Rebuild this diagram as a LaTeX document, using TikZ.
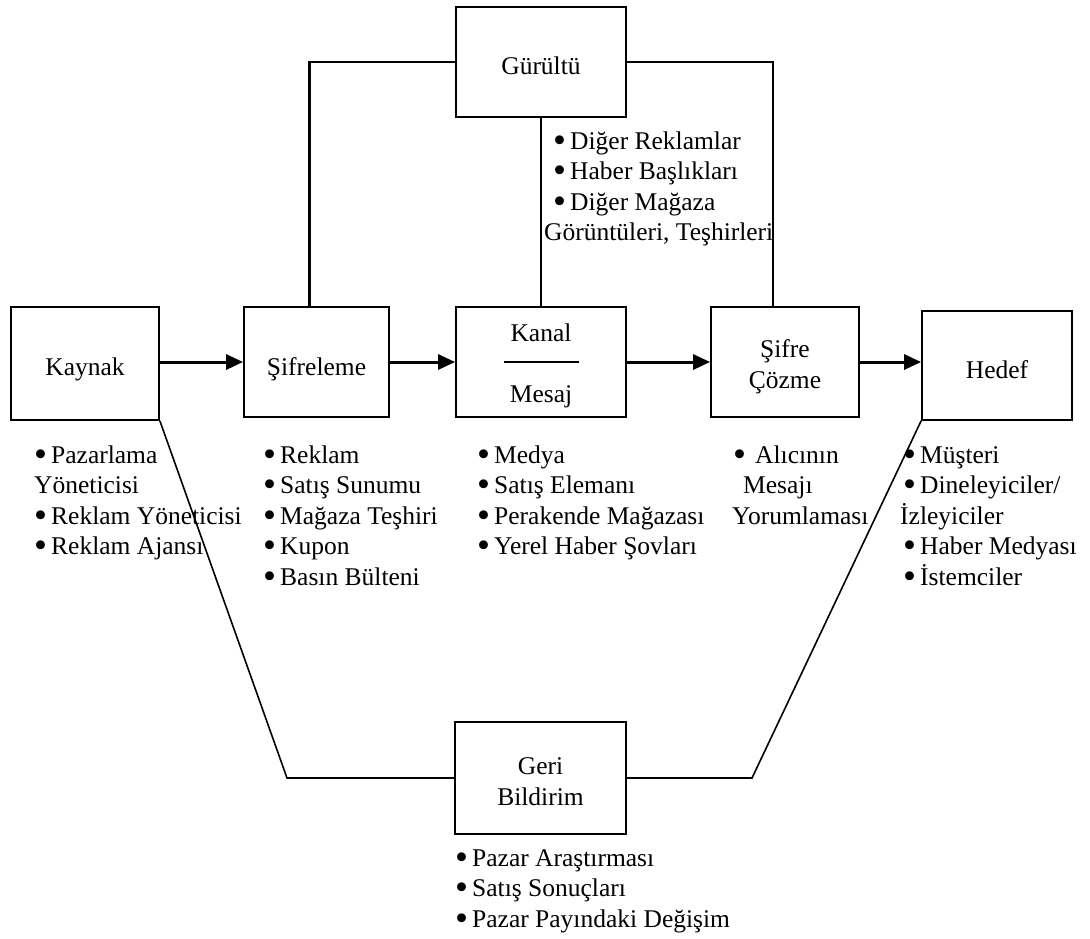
\documentclass[tikz,border=0pt]{standalone}
\usepackage{fontspec}
\usepackage{graphicx}
\setmainfont{Liberation Serif}
\usetikzlibrary{arrows.meta,calc}

% a round bullet dot
\newcommand{\bigdot}{\raisebox{-3.2pt}{\scalebox{1.45}{\textbullet}}}
% bullet followed by the gap before the item text
\newcommand{\bul}{\makebox[17pt][l]{\bigdot}}
% a left-aligned block whose baseline is that of its first line
\newcommand{\itemsblock}[1]{\begin{tabular}[t]{@{}l@{}}#1\end{tabular}}

\begin{document}
\begin{tikzpicture}[x=1pt,y=-1pt,
  every node/.style={font=\fontsize{25.5}{30.5}\selectfont},
  box/.style={draw, line width=1.8pt, inner sep=0pt},
  lbl/.style={anchor=base, inner sep=0pt},
  items/.style={anchor=base west, inner sep=0pt},
  flow/.style={line width=3pt, -{Triangle[length=17pt,width=15pt]}},
  noiseline/.style={line width=2.8pt},
  fbline/.style={line width=1.6pt}]

\useasboundingbox (0,0) rectangle (1090,938);

% main chain of boxes
\node[box, minimum width=148pt, minimum height=113pt] (src)   at (85,363.5) {};
\node[box, minimum width=145pt, minimum height=110pt] (enc)   at (316.5,362) {};
\node[box, minimum width=170pt, minimum height=110pt] (chan)  at (541,362) {};
\node[box, minimum width=148pt, minimum height=110pt] (dec)   at (785,362) {};
\node[box, minimum width=150pt, minimum height=109pt] (dst)   at (997,365.5) {};
\node[box, minimum width=170pt, minimum height=110pt] (noise) at (541,62) {};
\node[box, minimum width=171pt, minimum height=112pt] (fb)    at (540.5,778) {};

% box captions
\node[lbl] (srcT)   at (85,375)    {Kaynak};
\node[lbl] (encT)   at (316.5,375) {Şifreleme};
\node[lbl] (noiseT) at (541,74)    {Gürültü};
\node[lbl] (chanT)  at (541,341)   {Kanal};
\node[lbl] (chanB)  at (541,402)   {Mesaj};
\node[lbl] (decT)   at (785,357)   {Şifre};
\node[lbl] (decB)   at (785,388)   {Çözme};
\node[lbl] (dstT)   at (997,378)   {Hedef};
\node[lbl] (fbT)    at (540.5,774) {Geri};
\node[lbl] (fbB)    at (540.5,805) {Bildirim};

% divider between channel and message
\coordinate (divL) at (504,362);
\coordinate (divR) at (579,362);
\draw[line width=1.8pt] (divL) -- (divR);

% forward flow
\draw[flow] (src.east |- enc.west) -- (enc.west);
\draw[flow] (enc.east) -- (chan.west);
\draw[flow] (chan.east) -- (dec.west);
\draw[flow] (dec.east) -- (dec.east -| dst.west);

% noise acting on encoding, channel and decoding
\coordinate (encTop) at ($(enc.north west)!0.45!(enc.north east)$);
\coordinate (decTop) at ($(dec.north west)!0.42!(dec.north east)$);
\draw[noiseline] (noise.west) -| (encTop);
\draw[noiseline] (noise.east) -| (decTop);
\draw[noiseline] (noise.south) -- (chan.north);

% feedback loop
\coordinate (fbL) at (287,778);
\coordinate (fbR) at (752,778);
\draw[fbline] (src.south east) -- (fbL) -- (fb.west);
\draw[fbline] (dst.south west) -- (fbR) -- (fb.east);

% item lists
\node[items] (srcL) at (34,463) {\itemsblock{\bul Pazarlama\\ Yöneticisi\\ \bul Reklam Yöneticisi\\ \bul Reklam Ajansı}};
\node[items] (encL) at (263,463) {\itemsblock{\bul Reklam\\ \bul Satış Sunumu\\ \bul Mağaza Teşhiri\\ \bul Kupon\\ \bul Basın Bülteni}};
\node[items] (noiseL) at (553,149) {\itemsblock{\bul Diğer Reklamlar\\ \bul Haber Başlıkları\\ \bul Diğer Mağaza\\ \hspace*{-9pt}Görüntüleri, Teşhirleri}};
\node[items] (chanL) at (477,463) {\itemsblock{\bul Medya\\ \bul Satış Elemanı\\ \bul Perakende Mağazası\\ \bul Yerel Haber Şovları}};
\node[items] (decL) at (732,463) {\itemsblock{\hspace*{1pt}\makebox[22pt][l]{\bigdot}Alıcının\\ \hspace*{11pt}Mesajı\\ Yorumlaması}};
\node[items] (dstL) at (903,463) {\itemsblock{\bul Müşteri\\ \bul Dineleyiciler/\\ \hspace*{-3pt}İzleyiciler\\ \bul Haber Medyası\\ \bul İstemciler}};
\node[items] (fbL2) at (455,866) {\itemsblock{\bul Pazar Araştırması\\ \bul Satış Sonuçları\\ \bul Pazar Payındaki Değişim}};

\end{tikzpicture}
\end{document}
